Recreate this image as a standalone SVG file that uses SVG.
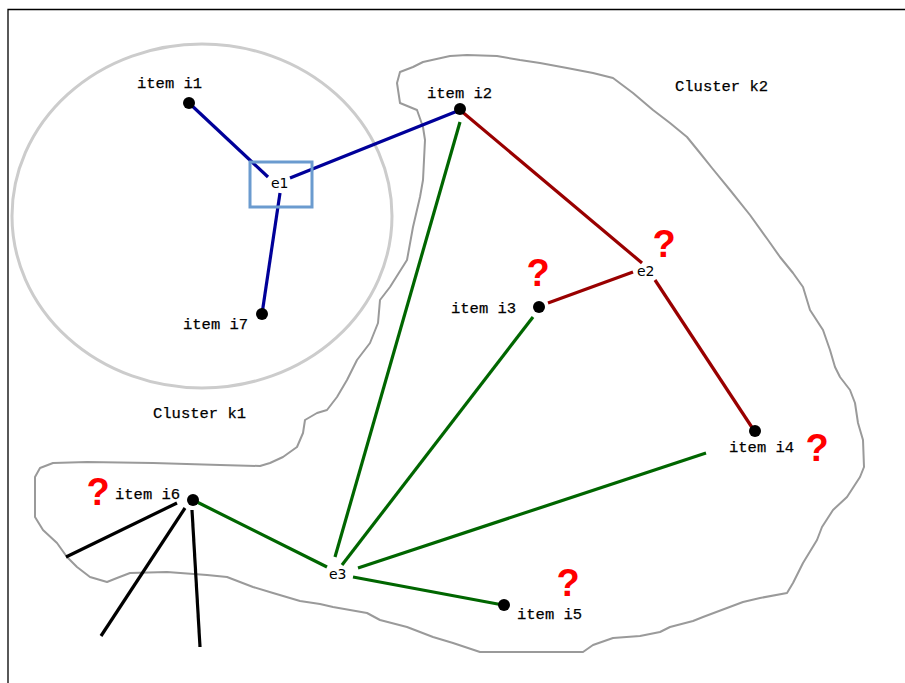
<svg xmlns="http://www.w3.org/2000/svg" width="905" height="683" viewBox="0 0 905 683">
  <style>
    .frame { fill: none; stroke: #000; stroke-width: 1.3; }
    .outline { fill: none; stroke: #9a9a9a; stroke-width: 2; stroke-linejoin: round; }
    .ring { fill: none; stroke: #cccccc; stroke-width: 3; }
    .hub { fill: none; stroke: #6b9bcf; stroke-width: 3; }
    .dot { fill: #000; }
    .item { font-family: "Liberation Mono", "Courier New", monospace; font-size: 15.5px; fill: #000; stroke: #000; stroke-width: 0.25; }
    .edge-label { font-family: "DejaVu Sans", "Liberation Sans", sans-serif; font-size: 14px; fill: #000; }
    .cluster { font-family: "Liberation Mono", "Courier New", monospace; font-size: 15.5px; fill: #000; stroke: #000; stroke-width: 0.25; }
    .q { font-family: "Liberation Sans", Arial, sans-serif; font-weight: bold; font-size: 38px; fill: #ff0000; text-anchor: middle; }
    .blue { stroke: #000099; stroke-width: 3.2; fill: none; }
    .red { stroke: #990000; stroke-width: 3.2; fill: none; }
    .green { stroke: #006600; stroke-width: 3.2; fill: none; }
    .black { stroke: #000; stroke-width: 3.2; fill: none; }
  </style>

  <rect width="905" height="683" fill="#fff"/>
  <!-- page frame (right and bottom edges run off the canvas) -->
  <path class="frame" d="M8,690 L8,9.5 L910,9.5"/>

  <!-- cluster k1: round boundary -->
  <g id="cluster-k1">
    <ellipse class="ring" cx="202" cy="216" rx="190" ry="172"/>
    <text class="cluster" x="153" y="418">Cluster k1</text>
  </g>

  <!-- cluster k2: hand-drawn boundary -->
  <g id="cluster-k2">
    <polygon class="outline" points="397,83 400,72 413,67 423,62 450,56 467,55 497,56 520,60 540,63 567,68 593,73 613,78 633,93 653,110 670,123 687,137 700,153 712,168 730,190 750,215 768,240 780,257 793,273 803,287 810,310 823,330 830,350 835,367 840,377 850,390 855,403 858,423 863,440 864,467 860,477 847,497 833,510 822,527 817,540 803,563 793,583 787,593 760,598 743,602 727,608 703,617 693,621 670,627 660,632 640,636 613,638 593,645 583,652 560,652 480,652 453,643 433,637 407,627 380,620 367,613 333,607 320,604 300,601 273,593 253,587 227,577 207,575 167,572 130,573 117,578 107,582 90,577 77,567 67,557 57,543 43,530 35,517 35,477 40,468 53,463 87,462 153,463 220,465 260,466 270,463 283,457 297,447 303,433 305,420 317,413 327,410 337,397 347,380 357,360 370,343 378,323 380,300 390,287 407,260 413,227 420,197 423,180 425,140 423,127 417,110 400,103"/>
    <text class="cluster" x="675" y="91">Cluster k2</text>
  </g>

  <!-- connectors -->
  <g id="connectors">
    <line class="blue" x1="189" y1="103" x2="268" y2="177"/>
    <line class="blue" x1="290" y1="178" x2="460" y2="110"/>
    <line class="blue" x1="280" y1="193" x2="262" y2="314"/>

    <line class="red" x1="460" y1="110" x2="642" y2="263"/>
    <line class="red" x1="633" y1="272" x2="548" y2="303"/>
    <line class="red" x1="655" y1="280" x2="755" y2="432"/>

    <line class="green" x1="460" y1="122" x2="335" y2="557"/>
    <line class="green" x1="533" y1="317" x2="342" y2="565"/>
    <line class="green" x1="706" y1="453" x2="358" y2="568"/>
    <line class="green" x1="353" y1="577" x2="503" y2="605"/>
    <line class="green" x1="193" y1="500" x2="327" y2="567"/>

    <line class="black" x1="177" y1="503" x2="66" y2="557"/>
    <line class="black" x1="185" y1="508" x2="101" y2="636"/>
    <line class="black" x1="192" y1="510" x2="200" y2="647"/>
  </g>

  <!-- items -->
  <g id="item-i1">
    <circle class="dot" cx="189" cy="103" r="6"/>
    <text class="item" x="137" y="88">item i1</text>
  </g>
  <g id="item-i2">
    <circle class="dot" cx="460" cy="109" r="6"/>
    <text class="item" x="427" y="98">item i2</text>
  </g>
  <g id="item-i3">
    <circle class="dot" cx="539" cy="307" r="6"/>
    <text class="item" x="451" y="313">item i3</text>
    <text class="q" x="538" y="286">?</text>
  </g>
  <g id="item-i4">
    <circle class="dot" cx="755" cy="431" r="6"/>
    <text class="item" x="729" y="452">item i4</text>
    <text class="q" x="817" y="461">?</text>
  </g>
  <g id="item-i5">
    <circle class="dot" cx="504" cy="605" r="6"/>
    <text class="item" x="517" y="619">item i5</text>
    <text class="q" x="568" y="596">?</text>
  </g>
  <g id="item-i6">
    <circle class="dot" cx="193" cy="500" r="6"/>
    <text class="item" x="115" y="499">item i6</text>
    <text class="q" x="98" y="505">?</text>
  </g>
  <g id="item-i7">
    <circle class="dot" cx="262" cy="314" r="6"/>
    <text class="item" x="183" y="329">item i7</text>
  </g>

  <!-- edges (hyperedge junctions) -->
  <g id="edge-e1">
    <rect class="hub" x="250" y="162" width="62" height="45"/>
    <text class="edge-label" x="271" y="188">e1</text>
  </g>
  <g id="edge-e2">
    <text class="edge-label" x="637" y="276">e2</text>
    <text class="q" x="664" y="257">?</text>
  </g>
  <g id="edge-e3">
    <text class="edge-label" x="329" y="579">e3</text>
  </g>
</svg>
